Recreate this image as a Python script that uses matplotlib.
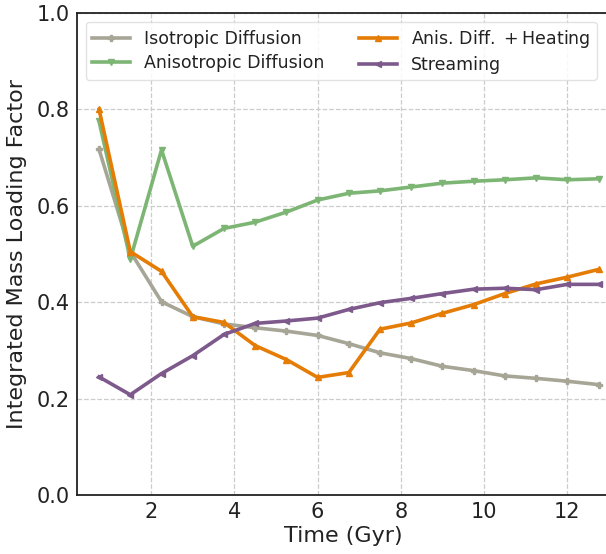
import matplotlib
matplotlib.use("Agg")
import matplotlib.pyplot as plt
import numpy as np

time_gyr = [0.75, 1.5, 2.25, 3.0, 3.75, 4.5, 5.25, 6.0, 6.75, 7.5, 8.25, 9.0, 9.75, 10.5, 11.25, 12.0, 12.75]
iso = [0.717, 0.505, 0.401, 0.370, 0.355, 0.347, 0.340, 0.331, 0.314, 0.295, 0.283, 0.267, 0.258, 0.247, 0.242, 0.236, 0.229]
aniso = [0.775, 0.489, 0.716, 0.516, 0.553, 0.566, 0.587, 0.612, 0.626, 0.631, 0.639, 0.647, 0.651, 0.654, 0.658, 0.654, 0.656]
heating = [0.800, 0.505, 0.464, 0.370, 0.358, 0.310, 0.281, 0.244, 0.254, 0.344, 0.357, 0.377, 0.395, 0.418, 0.438, 0.452, 0.468]
stream = [0.245, 0.208, 0.252, 0.289, 0.333, 0.356, 0.361, 0.367, 0.385, 0.399, 0.408, 0.418, 0.427, 0.429, 0.426, 0.437, 0.437]

labels = ["Isotropic Diffusion", "Anisotropic Diffusion", r"Anis.$\ $Diff.$\ +$Heating", "Streaming"]
colors = ["#a7a596", "#7db574", "#e57c05", "#7d5a8b"]
markers = ["P", "v", "^", "<"]

W, H = 606, 554
fig = plt.figure(figsize=(W / 100, H / 100), dpi=100)
left, right, top, bottom = 77, 609, 13, 495
ax = fig.add_axes([left / W, 1 - bottom / H, (right - left) / W, (bottom - top) / H])

series = [iso, aniso, heating, stream]
for i in range(4):
    ax.plot(time_gyr, series[i], color=colors[i], marker=markers[i], lw=2.6, ms=5,
            label=labels[i], zorder=3)

ax.set_xlim(0.22, 13.0)
ax.set_ylim(0.0, 1.0)
ax.set_xticks([2, 4, 6, 8, 10, 12])
ax.set_yticks([0.0, 0.2, 0.4, 0.6, 0.8, 1.0])
ax.grid(True, ls="--", color="#cccccc", lw=0.9)
for s in ax.spines.values():
    s.set_color("#222222")
    s.set_linewidth(1.3)
ax.tick_params(labelsize=15, length=0, pad=5, colors="#222222")
ax.set_xlabel("Time (Gyr)", fontsize=16, color="#222222", labelpad=3)
ax.set_ylabel("Integrated Mass Loading Factor", fontsize=16, color="#222222", labelpad=7)

leg = ax.legend(ncol=2, loc="upper left", bbox_to_anchor=(0.0, 1.0), fontsize=12.5,
                frameon=True, framealpha=0.85, edgecolor="#dddddd",
                handlelength=2.2, columnspacing=2.0, borderaxespad=0.5,
                labelspacing=0.35, borderpad=0.35)
for t in leg.get_texts():
    t.set_color("#222222")

fig.savefig("out.png", dpi=100)
